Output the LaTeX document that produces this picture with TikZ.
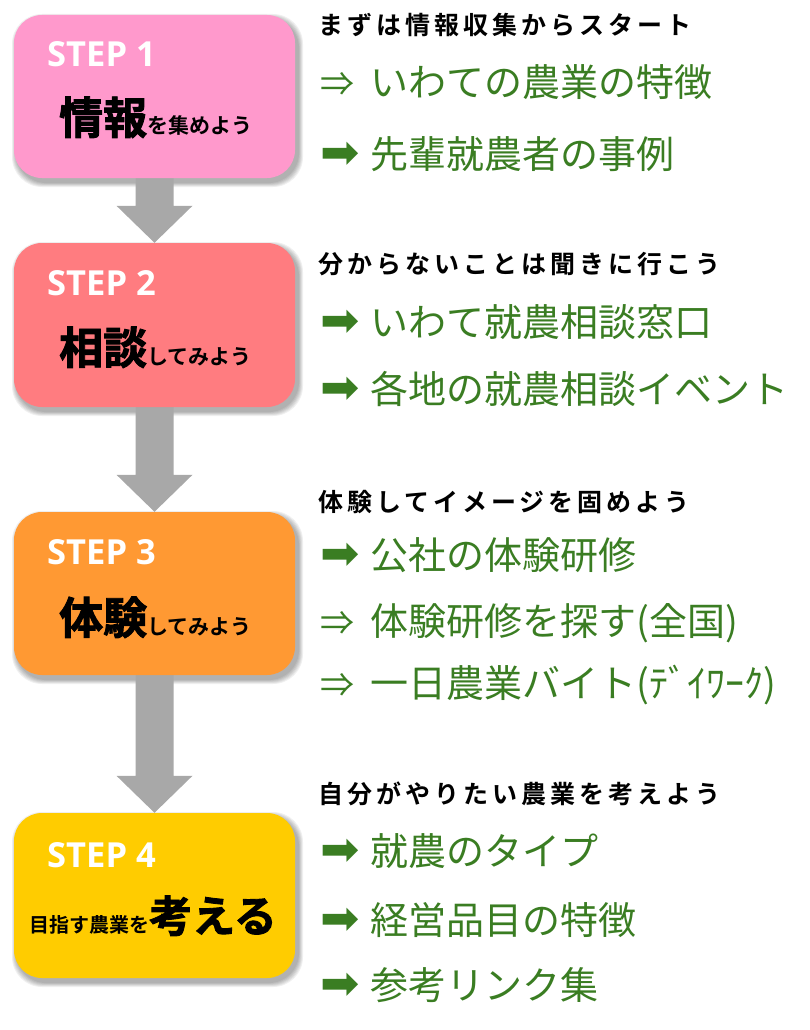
\documentclass[tikz,border=0pt]{standalone}
\usepackage{fontspec}
\usetikzlibrary{calc,backgrounds}
\setmainfont{Open Sans}
\newfontfamily\stepfont{Open Sans}[UprightFont=* Bold]
\newfontfamily\cjk{Noto Sans CJK JP}
\newfontfamily\cjkb{Noto Sans CJK JP}[UprightFont=* Bold]
\newfontfamily\cjkhead{Noto Sans CJK JP}[UprightFont=* Bold, LetterSpace=16]
\newfontfamily\cjkheavy{Noto Sans CJK JP}[UprightFont=* Bold, FakeBold=2]
\newfontfamily\symfont{DejaVu Sans}
\definecolor{pinkbox}{HTML}{FF99CC}
\definecolor{salmonbox}{HTML}{FF7C80}
\definecolor{orangebox}{HTML}{FF9933}
\definecolor{goldbox}{HTML}{FFCC00}
\definecolor{arrowgray}{HTML}{A8A8A8}
\definecolor{itemgreen}{HTML}{3A7D22}
\begin{document}
\begin{tikzpicture}[x=1pt,y=-1pt,
  stepbox/.style={rectangle, rounded corners=28pt, minimum width=281pt, inner sep=0pt},
  steplabel/.style={anchor=base west, inner sep=0pt, text=white, font=\stepfont\fontsize{34.5}{40}\selectfont},
  steptext/.style={anchor=base west, inner sep=0pt, text=black},
  headtext/.style={anchor=base west, inner sep=0pt, text=black, font=\cjkhead\fontsize{25}{30}\selectfont},
  itemtext/.style={anchor=base west, inner sep=0pt, text=itemgreen, font=\cjk\fontsize{38}{44}\selectfont},
  heavyarrow/.style={anchor=base west, inner sep=0pt, text=itemgreen, font=\symfont\fontsize{47}{50}\selectfont},
  thinarrow/.style={anchor=base west, inner sep=0pt, text=itemgreen, font=\cjk\fontsize{34}{40}\selectfont}
]
\useasboundingbox (0,0) rectangle (810,1030);

% boxes
\node[stepbox, fill=pinkbox, minimum height=163pt] (b1) at (154.5,96.5) {};
\node[stepbox, fill=salmonbox, minimum height=164pt] (b2) at (154.5,325) {};
\node[stepbox, fill=orangebox, minimum height=163pt] (b3) at (154.5,593.5) {};
\node[stepbox, fill=goldbox, minimum height=165pt] (b4) at (154.5,895.5) {};

% box texts
\node[steplabel] (s1) at (47,67) {STEP 1};
\node[steplabel] (s2) at (47,295) {STEP 2};
\node[steplabel] (s3) at (47,564) {STEP 3};
\node[steplabel] (s4) at (47,867) {STEP 4};

\node[steptext] (t1) at (59,134) {{\cjkheavy\fontsize{44}{50}\selectfont 情報}{\cjkb\fontsize{21}{25}\selectfont を集めよう}};
\node[steptext] (t2) at (59,364) {{\cjkheavy\fontsize{44}{50}\selectfont 相談}{\cjkb\fontsize{21}{25}\selectfont してみよう}};
\node[steptext] (t3) at (59,634) {{\cjkheavy\fontsize{44}{50}\selectfont 体験}{\cjkb\fontsize{21}{25}\selectfont してみよう}};
\node[steptext] (t4) at (29,932) {{\cjkb\fontsize{20}{25}\selectfont 目指す農業を}{\cjkheavy\fontsize{43}{50}\selectfont 考える}};

% shadows and connectors
\begin{pgfonlayer}{background}
\foreach \n in {b1,b2,b3,b4} {
  \foreach \i in {1,...,6} {
    \fill[black, opacity=0.06, rounded corners=30pt]
      ($(\n.north west)+({3-\i*0.8},{4-\i*0.8})$) rectangle ($(\n.south east)+({3+\i*0.8},{4+\i*0.8})$);
  }
}
\foreach \a/\b in {b1/b2, b2/b3, b3/b4} {
  \fill[arrowgray] ($(\a.south)+(-19,-2)$) -- ($(\b.north)+(-19,-37)$) -- ($(\b.north)+(-38,-37)$)
    -- (\b.north) -- ($(\b.north)+(38,-37)$) -- ($(\b.north)+(19,-37)$) -- ($(\a.south)+(19,-2)$) -- cycle;
}
\end{pgfonlayer}

% right side: headings
\node[headtext] (h1) at (318,35) {まずは情報収集からスタート};
\node[headtext] (h2) at (318,273) {分からないことは聞きに行こう};
\node[headtext] (h3) at (318,511) {体験してイメージを固めよう};
\node[headtext] (h4) at (318,803) {自分がやりたい農業を考えよう};

% items
\node[thinarrow] (a1a) at (320,96.5) {⇒};
\node[itemtext] (i1a) at (370,96.5) {いわての農業の特徴};
\node[heavyarrow] (a1b) at (320,168.5) {➡};
\node[itemtext] (i1b) at (370,168.5) {先輩就農者の事例};

\node[heavyarrow] (a2a) at (320,336.5) {➡};
\node[itemtext] (i2a) at (370,336.5) {いわて就農相談窓口};
\node[heavyarrow] (a2b) at (320,403.5) {➡};
\node[itemtext] (i2b) at (370,403.5) {各地の就農相談イベント};

\node[heavyarrow] (a3a) at (320,569) {➡};
\node[itemtext] (i3a) at (370,569) {公社の体験研修};
\node[thinarrow] (a3b) at (320,635) {⇒};
\node[itemtext] (i3b) at (370,635) {体験研修を探す(全国)};
\node[thinarrow] (a3c) at (320,697.5) {⇒};
\node[itemtext] (i3c) at (370,697.5) {一日農業バイト(ﾃﾞｲﾜｰｸ)};

\node[heavyarrow] (a4a) at (320,865.5) {➡};
\node[itemtext] (i4a) at (370,865.5) {就農のタイプ};
\node[heavyarrow] (a4b) at (320,934) {➡};
\node[itemtext] (i4b) at (370,934) {経営品目の特徴};
\node[heavyarrow] (a4c) at (320,999) {➡};
\node[itemtext] (i4c) at (370,999) {参考リンク集};
\end{tikzpicture}
\end{document}
